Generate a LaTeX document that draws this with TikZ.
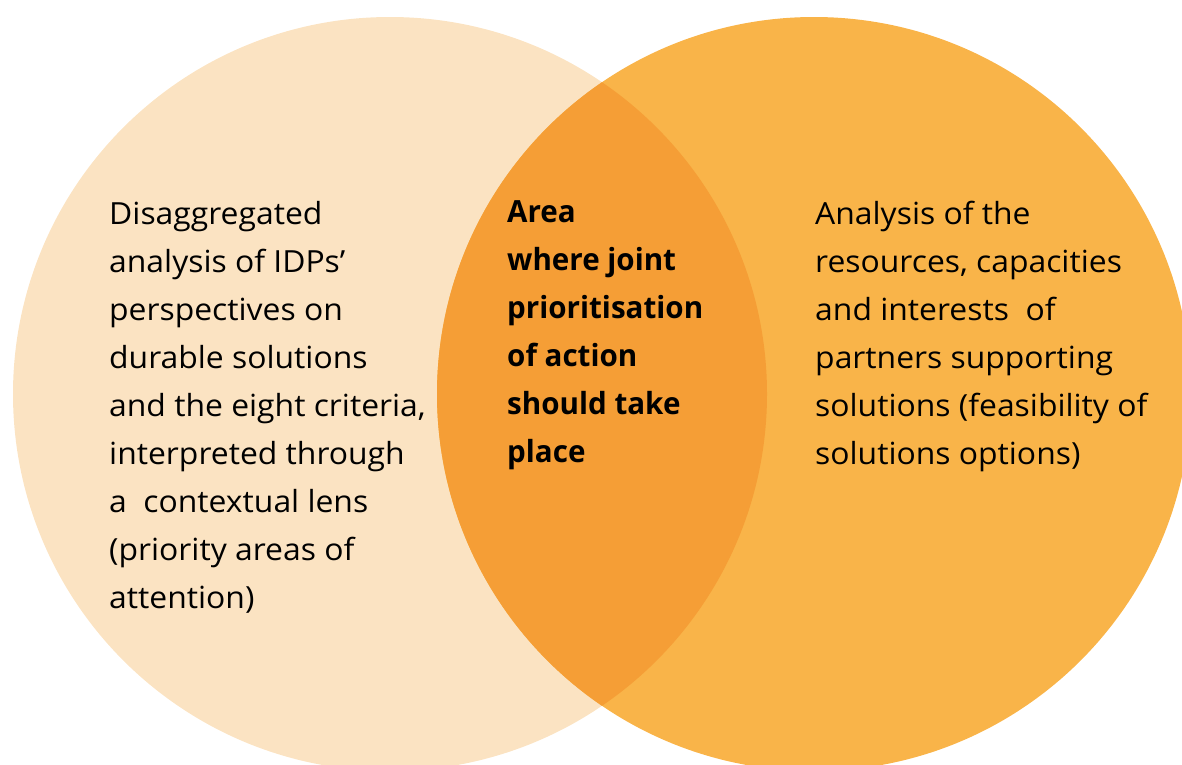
\documentclass[tikz,border=0pt]{standalone}
\usepackage{fontspec}
\setmainfont{Open Sans}
\newfontfamily\regfont{Open Sans}[FakeStretch=1.045]
\newfontfamily\boldfont{Open Sans}[FakeStretch=0.97]
\definecolor{leftc}{HTML}{FBE3C2}
\definecolor{rightc}{HTML}{F9B449}
\definecolor{midc}{HTML}{F59E36}
\begin{document}
\begin{tikzpicture}[x=1pt,y=-1pt,
  txt/.style={anchor=base west,inner sep=0pt,align=left,
    font=\regfont\fontsize{30.5}{47.9}\selectfont,text=black},
  btxt/.style={txt,font=\boldfont\bfseries\fontsize{30.5}{47.9}\selectfont}]
\useasboundingbox (0,0) rectangle (1182,764);
\clip (0,0) rectangle (1182,764);
\fill[leftc] (390,394) circle[radius=377];
\fill[rightc] (814,394) circle[radius=377];
\begin{scope}
  \clip (390,394) circle[radius=377];
  \fill[midc] (814,394) circle[radius=377];
\end{scope}
\node[txt] (left) at (109,608) {Disaggregated\\analysis of IDPs’\\perspectives on\\durable solutions\\and the eight criteria,\\interpreted through\\a\ \ contextual lens\\(priority areas of\\attention)};
\node[btxt] (mid) at (507,462) {Area\\where joint\\prioritisation\\of action\\should take\\place};
\node[txt] (right) at (815,464) {Analysis of the\\resources, capacities\\and interests\ \ of\\partners supporting\\solutions (feasibility of\\solutions options)};
\end{tikzpicture}
\end{document}
